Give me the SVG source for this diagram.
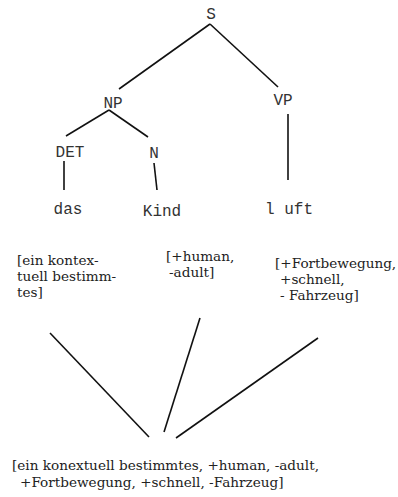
<svg xmlns="http://www.w3.org/2000/svg" width="398" height="497" viewBox="0 0 398 497">
<style>
.m{font-family:"Liberation Mono","Courier New",monospace;font-size:16px;fill:#333;text-anchor:middle}
.s{font-family:"DejaVu Serif","Liberation Serif",serif;font-size:13.6px;fill:#222}
.e{stroke:#111;stroke-width:1.6;fill:none}
</style>
<rect width="398" height="497" fill="#fff"/>
<g id="connectors">
<line class="e" x1="210" y1="24" x2="119" y2="89"/>
<line class="e" x1="210" y1="24" x2="278" y2="87"/>
<line class="e" x1="109" y1="110" x2="66" y2="136"/>
<line class="e" x1="109" y1="110" x2="148" y2="137"/>
<line class="e" x1="64" y1="161" x2="64" y2="190"/>
<line class="e" x1="154" y1="163" x2="157" y2="190"/>
<line class="e" x1="288" y1="114" x2="288" y2="180"/>
<line class="e" x1="50" y1="333" x2="149" y2="437"/>
<line class="e" x1="200" y1="318" x2="164" y2="432"/>
<line class="e" x1="318" y1="338" x2="176" y2="438"/>
</g>
<g id="S"><text class="m" x="211" y="19">S</text></g>
<g id="NP"><text class="m" x="113" y="108">NP</text></g>
<g id="VP"><text class="m" x="283" y="105">VP</text></g>
<g id="DET"><text class="m" x="70" y="157">DET</text></g>
<g id="N"><text class="m" x="154" y="158">N</text></g>
<g id="das"><text class="m" x="68" y="214">das</text></g>
<g id="Kind"><text class="m" x="162" y="216">Kind</text></g>
<g id="luft"><text class="m" x="289" y="214">l uft</text></g>
<g id="f1"><text class="s" x="17" y="265">[ein kontex-</text><text class="s" x="17" y="281">tuell bestimm-</text><text class="s" x="17" y="297">tes]</text></g>
<g id="f2"><text class="s" x="166" y="261">[+human,</text><text class="s" x="169" y="277">-adult]</text></g>
<g id="f3"><text class="s" x="275" y="268">[+Fortbewegung,</text><text class="s" x="280" y="284">+schnell,</text><text class="s" x="280" y="300">- Fahrzeug]</text></g>
<g id="result"><text class="s" x="12" y="470">[ein konextuell bestimmtes, +human, -adult,</text><text class="s" x="20" y="487">+Fortbewegung, +schnell, -Fahrzeug]</text></g>
</svg>
